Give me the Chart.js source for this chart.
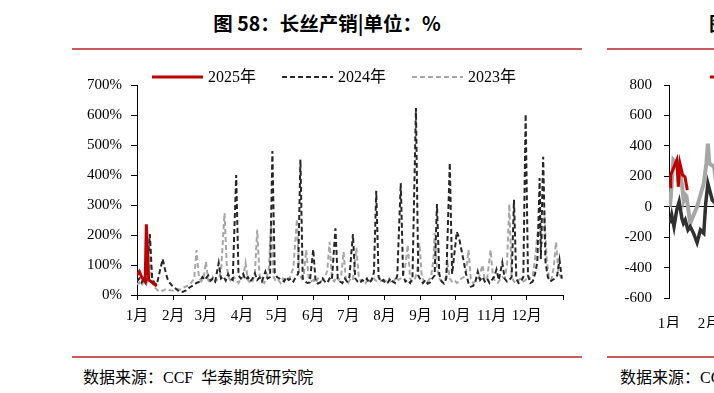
<!DOCTYPE html>
<html>
<head>
<meta charset="utf-8">
<script src="https://cdn.jsdelivr.net/npm/chart.js@4"></script>
<style>
    body { margin: 0; width: 714px; height: 393px; overflow: hidden; background: #fff; position: relative; }
    .title { position: absolute; top: 8px; font: bold 19.5px "Noto Sans CJK SC", sans-serif; color: #000; white-space: nowrap; }
    .rule { position: absolute; height: 2px; background: #c65d5b; }
    .source { position: absolute; top: 364px; font: 16px "Liberation Serif", "Noto Sans CJK SC", serif; color: #000; white-space: nowrap; }
    canvas { position: absolute; top: 0; }
</style>
</head>
<body>
<div class="title" style="left:72px;width:510px;text-align:center;">图 58：长丝产销|单位：%</div>
<div class="title" style="left:709px;">图 59：长丝库存</div>
<div class="rule" style="left:72px;top:48px;width:510px;"></div>
<div class="rule" style="left:607px;top:48px;width:107px;"></div>

<canvas id="chartRatio" width="600" height="345" style="left:0;"></canvas>
<canvas id="chartStock" width="600" height="345" style="left:600px;"></canvas>

<div class="rule" style="left:72px;top:356px;width:510px;"></div>
<div class="rule" style="left:607px;top:356px;width:107px;"></div>
<div class="source" style="left:83px;">数据来源：CCF&nbsp;&nbsp;华泰期货研究院</div>
<div class="source" style="left:620px;">数据来源：CCF&nbsp;&nbsp;华泰期货研究院</div>

<script>
// Monatsanfänge (Tag im Jahr) und Beschriftungen
const monthStarts = [0, 31, 59, 90, 120, 151, 181, 212, 243, 273, 304, 334, 365];
const monthLabels = ['1月', '2月', '3月', '4月', '5月', '6月', '7月', '8月', '9月', '10月', '11月', '12月', ''];
const seriesLabels = ['2025年', '2024年', '2023年'];

// Bild 58: Produktions-/Absatzquote, Tag im Jahr -> %
const days2025 = [0, 2, 4, 7, 8, 10, 12, 14, 17];
const ratio2025 = [67, 78, 60, 44, 236, 50, 45, 38, 30];

const days2024 = [0, 2, 4, 6, 8, 11, 13, 15, 17, 19, 22, 24, 26, 28, 30, 33, 36, 39, 42, 45, 48, 51, 54, 56, 58, 61, 63, 65, 67, 70,
    72, 74, 76, 78, 80, 82, 85, 87, 89, 91, 93, 95, 97, 99, 101, 103, 105, 107, 110, 112, 114, 116, 118, 120, 122, 124, 126, 128, 130, 132,
    134, 136, 138, 140, 142, 144, 146, 148, 151, 153, 155, 157, 159, 161, 163, 165, 167, 170, 172, 174, 176, 178, 180, 182, 185, 187, 189, 191, 193, 195,
    197, 199, 201, 203, 205, 207, 209, 211, 213, 215, 217, 219, 221, 223, 226, 228, 230, 232, 234, 236, 239, 241, 243, 245, 247, 249, 251, 253, 255, 257,
    259, 261, 263, 265, 268, 270, 272, 274, 276, 278, 280, 282, 284, 286, 288, 290, 292, 294, 296, 298, 300, 302, 304, 306, 308, 310, 313, 315, 317, 319,
    321, 323, 325, 327, 329, 331, 333, 335, 337, 339, 341, 343, 345, 346, 348, 350, 352, 354, 356, 358, 360, 362, 364];
const ratio2024 = [45, 55, 42, 60, 48, 203, 55, 40, 35, 70, 120, 85, 55, 40, 32, 22, 12, 10, 15, 25, 32, 40, 45, 60, 50, 65, 48, 55, 45, 107,
    55, 62, 48, 70, 55, 50, 400, 65, 55, 70, 50, 60, 45, 55, 72, 50, 58, 45, 78, 55, 60, 480, 75, 60, 55, 50, 45, 60, 50, 55,
    45, 60, 70, 452, 55, 45, 40, 42, 152, 45, 38, 42, 55, 45, 40, 55, 50, 222, 55, 45, 40, 55, 45, 60, 203, 55, 45, 40, 50, 45,
    55, 40, 50, 75, 347, 60, 45, 50, 38, 42, 55, 45, 40, 65, 373, 65, 45, 50, 40, 55, 623, 65, 50, 40, 50, 38, 42, 55, 65, 303,
    70, 45, 38, 55, 440, 70, 140, 211, 190, 150, 110, 70, 40, 28, 30, 45, 78, 50, 60, 45, 55, 40, 50, 60, 85, 50, 108, 55, 45, 50,
    60, 317, 55, 40, 45, 60, 603, 65, 40, 45, 70, 110, 390, 120, 461, 110, 60, 45, 50, 55, 65, 117, 55];

const days2023 = [0, 2, 4, 6, 8, 10, 11, 12, 14, 16, 18, 20, 22, 25, 28, 31, 34, 37, 40, 43, 46, 49, 51, 53, 55, 57, 59, 61, 63, 65,
    67, 70, 72, 75, 77, 79, 81, 83, 85, 87, 89, 91, 93, 95, 97, 99, 101, 103, 105, 107, 109, 111, 113, 115, 117, 119, 121, 123, 125, 127,
    129, 131, 134, 137, 139, 141, 143, 145, 147, 149, 151, 153, 155, 157, 159, 161, 163, 165, 167, 169, 171, 173, 175, 177, 179, 181, 183, 185, 188, 190,
    192, 194, 196, 198, 200, 202, 204, 206, 208, 210, 212, 214, 216, 218, 220, 222, 224, 226, 228, 230, 232, 234, 236, 238, 240, 242, 244, 246, 248, 250,
    252, 254, 255, 257, 259, 261, 263, 265, 266, 268, 270, 272, 274, 276, 278, 280, 282, 284, 286, 288, 290, 292, 294, 296, 298, 300, 303, 305, 307, 309,
    311, 313, 315, 317, 319, 321, 323, 325, 327, 329, 331, 333, 335, 337, 339, 341, 343, 345, 347, 349, 351, 353, 355, 357, 359, 361, 363, 365];
const ratio2023 = [35, 42, 30, 50, 38, 75, 200, 70, 40, 22, 15, 18, 14, 20, 16, 15, 20, 18, 25, 30, 38, 55, 150, 60, 45, 55, 111, 50, 40, 60,
    45, 55, 80, 273, 90, 55, 45, 60, 50, 40, 55, 60, 107, 50, 40, 45, 70, 217, 65, 50, 40, 55, 90, 245, 60, 45, 50, 40, 55, 50,
    45, 60, 90, 253, 70, 55, 70, 150, 60, 45, 50, 40, 55, 45, 50, 60, 80, 177, 55, 45, 60, 50, 65, 144, 50, 40, 55, 50, 157, 60,
    45, 50, 40, 55, 45, 60, 50, 45, 55, 40, 50, 45, 55, 40, 45, 60, 50, 55, 65, 100, 167, 55, 45, 50, 80, 173, 60, 45, 40, 50,
    60, 120, 207, 90, 55, 45, 50, 60, 107, 55, 45, 50, 40, 45, 55, 60, 80, 150, 55, 40, 45, 50, 70, 100, 50, 55, 150, 60, 45, 40,
    50, 60, 55, 100, 303, 60, 45, 40, 50, 55, 45, 50, 65, 55, 60, 120, 200, 240, 170, 278, 120, 55, 50, 90, 177, 80, 60, 50];

// Bild 59 (rechts, abgeschnitten)
const stockTicks = [-600, -400, -200, 0, 200, 400, 600, 800];
const stockDays2025 = [0.8, 1.3, 3.9, 6, 7.2, 8.5, 10.6, 12.4, 14.2];
const stock2025 = [131, 208, 262, 306, 131, 284, 208, 197, 109];
const stockDays2024 = [0.8, 2.1, 3.9, 6, 7.9, 10, 11.2, 12.6, 14.7, 16.5, 19.1, 21.8, 24.4, 27, 28.5, 30.2, 33.6, 36, 40];
const stock2024 = [-109, -55, -131, -22, 33, -76, -109, -87, -153, -131, -175, -236, -153, -175, 22, 153, 44, 22, 30];
const stockDays2023 = [0.8, 3.4, 5, 6.5, 8.7, 10, 11.3, 12.5, 13.5, 16.5, 21.8, 27, 29, 30.2, 31.3, 35, 36, 40];
const stock2023 = [0, 306, 290, 295, 219, 150, 44, 80, 70, -109, 0, 153, 284, 415, 284, 262, 197, 220];

const serifFont = "'Liberation Serif', 'Noto Sans CJK SC', serif";
const zip = (xs, ys) => xs.map((x, i) => ({x: x, y: ys[i]}));

// Legende selbst zeichnen, damit die Strichlinien stimmen
const legendLines = {
    id: 'legendLines',
    afterDraw(chart, args, opts) {
        const ctx = chart.ctx;
        let x = opts.x;
        ctx.save();
        ctx.font = '16px ' + serifFont;
        ctx.textBaseline = 'middle';
        for (const ds of chart.data.datasets) {
            ctx.strokeStyle = ds.borderColor;
            ctx.lineWidth = Math.min(ds.borderWidth, 3);
            ctx.setLineDash(ds.borderDash || []);
            ctx.beginPath();
            ctx.moveTo(x, opts.y);
            ctx.lineTo(x + opts.lineLen, opts.y);
            ctx.stroke();
            ctx.setLineDash([]);
            ctx.fillStyle = '#000';
            ctx.fillText(ds.label, x + opts.lineLen + opts.gap, opts.y + 1);
            x += opts.lineLen + opts.gap + ctx.measureText(ds.label).width + opts.spacing;
        }
        ctx.restore();
    }
};

function monthAxis(height, showLine) {
    return {
        type: 'linear',
        min: 0,
        max: 365,
        afterBuildTicks: (scale) => { scale.ticks = monthStarts.map(v => ({value: v})); },
        afterFit: (scale) => { scale.height = height; },
        ticks: {
            autoSkip: false,
            maxRotation: 0,
            padding: showLine ? 7 : 12,
            color: '#000',
            font: {family: serifFont, size: 15},
            callback: (v, i) => monthLabels[i]
        },
        grid: {display: showLine, drawOnChartArea: false, tickLength: 5, color: '#000'},
        border: {display: showLine, color: '#000', width: 1}
    };
}

new Chart(document.getElementById('chartRatio').getContext('2d'), {
    type: 'line',
    data: {
        datasets: [
            {label: seriesLabels[0], data: zip(days2025, ratio2025), borderColor: '#c00000', borderWidth: 3},
            {label: seriesLabels[1], data: zip(days2024, ratio2024), borderColor: '#262626', borderWidth: 2, borderDash: [5, 3]},
            {label: seriesLabels[2], data: zip(days2023, ratio2023), borderColor: '#a6a6a6', borderWidth: 2, borderDash: [5, 3]}
        ]
    },
    options: {
        responsive: false,
        animation: false,
        layout: {padding: {left: 0, right: 37, top: 85, bottom: 20}},
        elements: {point: {radius: 0}, line: {tension: 0}},
        scales: {
            x: monthAxis(30, true),
            y: {
                min: 0,
                max: 700,
                afterFit: (scale) => { scale.width = 137; },
                ticks: {stepSize: 100, padding: 9, color: '#000', font: {family: serifFont, size: 15}, callback: v => v + '%'},
                grid: {drawOnChartArea: false, tickLength: 6, color: '#000'},
                border: {color: '#000', width: 1}
            }
        },
        plugins: {
            legend: {display: false},
            tooltip: {enabled: false},
            legendLines: {x: 152, y: 77, lineLen: 51, gap: 5, spacing: 26}
        }
    },
    plugins: [legendLines]
});

new Chart(document.getElementById('chartStock').getContext('2d'), {
    type: 'line',
    data: {
        datasets: [
            {label: seriesLabels[0], data: zip(stockDays2025, stock2025), borderColor: '#c00000', borderWidth: 3},
            {label: seriesLabels[1], data: zip(stockDays2024, stock2024), borderColor: '#303030', borderWidth: 3.5},
            {label: seriesLabels[2], data: zip(stockDays2023, stock2023), borderColor: '#a6a6a6', borderWidth: 4}
        ]
    },
    options: {
        responsive: false,
        animation: false,
        layout: {padding: {left: 0, right: 61, top: 85, bottom: 17}},
        elements: {point: {radius: 0}, line: {tension: 0}},
        scales: {
            x: monthAxis(30, false),
            y: {
                min: -600,
                max: 800,
                afterBuildTicks: (scale) => { scale.ticks = stockTicks.map(v => ({value: v})); },
                afterFit: (scale) => { scale.width = 69; },
                ticks: {padding: 12, color: '#000', font: {family: serifFont, size: 15}},
                grid: {
                    tickLength: 5,
                    tickColor: '#000',
                    color: (c) => (c.tick && c.tick.value === 0 ? '#000' : 'rgba(0,0,0,0)')
                },
                border: {color: '#000', width: 1}
            }
        },
        plugins: {
            legend: {display: false},
            tooltip: {enabled: false},
            legendLines: {x: 110, y: 77, lineLen: 51, gap: 5, spacing: 26}
        }
    },
    plugins: [legendLines]
});
</script>
</body>
</html>
